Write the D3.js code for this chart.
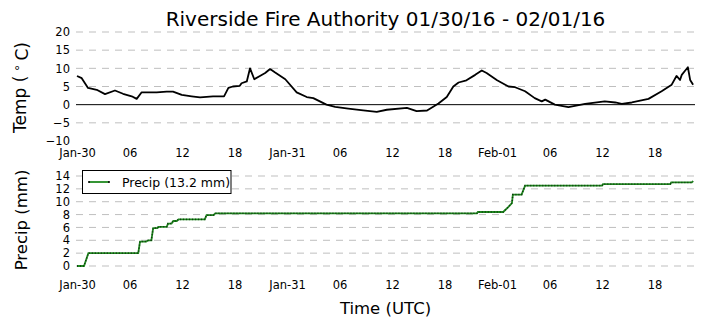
<!DOCTYPE html>
<html>
<head>
<meta charset="utf-8">
<script src="https://cdn.jsdelivr.net/npm/d3@7"></script>
<style>
  body { margin: 0; background: #fff; }
  text { font-family: "DejaVu Sans", sans-serif; fill: #000; }
</style>
</head>
<body>
<div id="chart"></div>
<script>
// time is in hours after 2016-01-30 00:00 UTC
const tempHours = [0.0, 0.54, 1.26, 2.25, 3.2, 4.34, 5.26, 6.25, 6.82, 7.39, 9.1, 10.25, 10.97, 11.97,
  13.1, 14.06, 15.54, 16.8, 17.3, 17.8, 18.6, 18.8, 19.4, 19.77, 20.26, 20.9, 21.5, 22.06, 22.6,
  23.8, 25.1, 26.25, 27.0, 28.5, 29.5, 31.0, 32.7, 34.25, 35.4, 37.7, 38.8, 40.0, 41.3, 42.25,
  43.0, 43.6, 44.5, 45.5, 46.25, 46.8, 48.0, 49.3, 50.06, 51.2, 52.3, 53.1, 53.5, 54.6, 56.15,
  58.06, 60.3, 61.5, 62.25, 63.4, 65.3, 66.8, 67.95, 68.5, 68.9, 69.1, 69.5, 69.8, 70.06, 70.4];
const tempValues = [7.9, 7.3, 4.6, 4.1, 2.9, 3.9, 3.0, 2.3, 1.6, 3.4, 3.4, 3.6, 3.6, 2.7,
  2.3, 2.0, 2.3, 2.3, 4.6, 5.0, 5.2, 5.9, 6.4, 10.0, 7.0, 7.9, 8.7, 9.8, 8.9,
  7.0, 3.4, 2.1, 1.8, 0.0, -0.6, -1.1, -1.6, -2.0, -1.4, -0.9, -1.8, -1.6, 0.3, 2.1,
  5.0, 6.1, 6.7, 8.2, 9.4, 8.7, 6.7, 5.0, 4.8, 3.7, 1.8, 0.9, 1.4, 0.0, -0.7,
  0.2, 0.9, 0.6, 0.2, 0.6, 1.6, 3.7, 5.5, 7.9, 6.8, 8.2, 9.4, 10.3, 6.8, 5.5];

const precipHours = [0, 0.8, 1.3, 7.0, 7.2, 7.9, 8.15, 8.5, 8.7, 9.2, 9.3, 10.25, 10.4, 10.8,
  11.0, 11.4, 11.6, 14.6, 14.8, 15.6, 15.8, 45.7, 45.8, 48.7, 49.3, 49.7, 49.8, 50.8, 51.2,
  60.0, 60.1, 67.8, 67.9, 70.25, 70.4];
const precipValues = [0, 0, 2.0, 2.0, 3.8, 3.8, 4.0, 4.0, 5.9, 5.9, 6.1, 6.1, 6.6, 6.6,
  7.0, 7.0, 7.25, 7.25, 7.9, 7.9, 8.2, 8.2, 8.4, 8.4, 9.2, 9.8, 11.1, 11.1, 12.5,
  12.5, 12.75, 12.75, 13.0, 13.0, 13.2];

const timeTickHours = [0, 6, 12, 18, 24, 30, 36, 42, 48, 54, 60, 66];
const timeTickLabels = ["Jan-30", "06", "12", "18", "Jan-31", "06", "12", "18", "Feb-01", "06", "12", "18"];
const tempTicks = [-10, -5, 0, 5, 10, 15, 20];
const precipTicks = [0, 2, 4, 6, 8, 10, 12, 14];

const title = "Riverside Fire Authority 01/30/16 - 02/01/16";
const precipTotal = 13.2;

const width = 705, height = 328;
const start = Date.UTC(2016, 0, 30, 0, 0);
const toDate = h => new Date(start + h * 3600e3);

const svg = d3.select("#chart").append("svg")
  .attr("width", width)
  .attr("height", height);

const x = d3.scaleUtc()
  .domain([toDate(0), toDate(70.5)])
  .range([77, 694]);

const gridLeft = 76, gridRight = 695;

// judul
svg.append("text")
  .attr("x", 385.5)
  .attr("y", 25.5)
  .attr("text-anchor", "middle")
  .style("font-size", "20px")
  .text(title);

function drawPanel(yScale, ticks, skipGrid, labelY) {
  const g = svg.append("g");
  // garis grid putus-putus
  g.selectAll("line.grid")
    .data(ticks.filter(t => !skipGrid.includes(t)))
    .enter().append("line")
    .attr("x1", gridLeft).attr("x2", gridRight)
    .attr("y1", d => yScale(d)).attr("y2", d => yScale(d))
    .attr("stroke", "#bfbfbf")
    .attr("stroke-width", 1)
    .attr("stroke-dasharray", "7,6");

  // label sumbu y
  const yAxis = d3.axisLeft(yScale).tickValues(ticks).tickSize(0).tickPadding(0)
    .tickFormat(d => d < 0 ? "\u2212" + Math.abs(d) : d);
  const ya = g.append("g").attr("transform", "translate(70,0)").call(yAxis);
  ya.select(".domain").remove();
  ya.selectAll("text").style("font-size", "11.5px").style("font-family", "DejaVu Sans").attr("fill", "#000");

  // label sumbu x
  const xAxis = d3.axisBottom(x)
    .tickValues(timeTickHours.map(toDate))
    .tickSize(0).tickPadding(0)
    .tickFormat((d, i) => timeTickLabels[i]);
  const xa = g.append("g").attr("transform", "translate(0," + (labelY - 9) + ")").call(xAxis);
  xa.select(".domain").remove();
  xa.selectAll("text").style("font-size", "11.5px").style("font-family", "DejaVu Sans").attr("fill", "#000");
  return g;
}

// panel suhu
const yTemp = d3.scaleLinear().domain([-10, 20]).range([141, 32]);
drawPanel(yTemp, tempTicks, [0, -10], 157.5);

svg.append("line")
  .attr("x1", gridLeft).attr("x2", gridRight)
  .attr("y1", yTemp(0)).attr("y2", yTemp(0))
  .attr("stroke", "#000").attr("stroke-width", 1);

const tempData = tempHours.map((h, i) => ({ t: toDate(h), v: tempValues[i] }));
const tempLine = d3.line().x(d => x(d.t)).y(d => yTemp(d.v));
svg.append("path")
  .datum(tempData)
  .attr("d", tempLine)
  .attr("fill", "none")
  .attr("stroke", "#000")
  .attr("stroke-width", 1.8)
  .attr("stroke-linejoin", "round");

const tempLabel = svg.append("text")
  .attr("transform", "translate(26,87.5) rotate(-90)")
  .attr("text-anchor", "middle")
  .style("font-size", "17px");
tempLabel.append("tspan").text("Temp (");
tempLabel.append("tspan").attr("dy", "-0.45em").style("font-size", "12px").text(" \u2218 ");
tempLabel.append("tspan").attr("dy", "0.45em").text("C)");

// panel curah hujan
const yPrecip = d3.scaleLinear().domain([0, 14]).range([266, 176]);
drawPanel(yPrecip, precipTicks, [], 290);

const precipData = precipHours.map((h, i) => ({ t: toDate(h), v: precipValues[i] }));
const precipLine = d3.line().x(d => x(d.t)).y(d => yPrecip(d.v));
svg.append("path")
  .datum(precipData)
  .attr("d", precipLine)
  .attr("fill", "none")
  .attr("stroke", "#1f8a1f")
  .attr("stroke-width", 1.8);
svg.append("path")
  .datum(precipData)
  .attr("d", precipLine)
  .attr("fill", "none")
  .attr("stroke", "#000")
  .attr("stroke-opacity", 0.6)
  .attr("stroke-width", 1.6)
  .attr("stroke-dasharray", "1,2");

svg.append("text")
  .attr("transform", "translate(27,220) rotate(-90)")
  .attr("text-anchor", "middle")
  .style("font-size", "16.5px")
  .text("Precip (mm)");

// legenda
const legend = svg.append("g");
legend.append("rect")
  .attr("x", 82.5).attr("y", 170.5)
  .attr("width", 148.5).attr("height", 23)
  .attr("fill", "#fff").attr("stroke", "#000").attr("stroke-width", 1);
legend.append("line")
  .attr("x1", 89).attr("x2", 109).attr("y1", 182).attr("y2", 182)
  .attr("stroke", "#1f8a1f").attr("stroke-width", 1.8);
[89, 109].forEach(px => legend.append("circle")
  .attr("cx", px).attr("cy", 182).attr("r", 1).attr("fill", "#000"));
legend.append("text")
  .attr("x", 122).attr("y", 186.5)
  .style("font-size", "12.5px")
  .text("Precip (" + precipTotal + " mm)");

// judul sumbu x
svg.append("text")
  .attr("x", 385.5)
  .attr("y", 313.5)
  .attr("text-anchor", "middle")
  .style("font-size", "16.5px")
  .text("Time (UTC)");
</script>
</body>
</html>
